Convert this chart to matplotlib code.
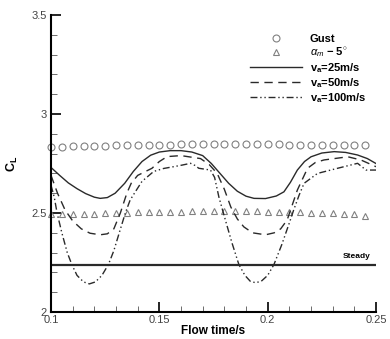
import numpy as np
import matplotlib
matplotlib.use('Agg')
import matplotlib.pyplot as plt
from matplotlib.lines import Line2D
from matplotlib.ticker import MultipleLocator

plt.rcParams['font.family'] = ['Liberation Sans', 'DejaVu Sans']
plt.rcParams['mathtext.fontset'] = 'custom'
plt.rcParams['mathtext.rm'] = 'Liberation Sans'
plt.rcParams['mathtext.it'] = 'Liberation Sans:italic'
plt.rcParams['mathtext.bf'] = 'Liberation Sans:bold'

# gust / alpha_m - 5 deg markers
t_marker = [0.100, 0.105, 0.110, 0.115, 0.120, 0.125, 0.130, 0.135, 0.140, 0.145,
            0.150, 0.155, 0.160, 0.165, 0.170, 0.175, 0.180, 0.185, 0.190, 0.195,
            0.200, 0.205, 0.210, 0.215, 0.220, 0.225, 0.230, 0.235, 0.240, 0.245]
cl_gust = [2.833, 2.835, 2.836, 2.838, 2.839, 2.840, 2.841, 2.842, 2.843, 2.844,
           2.845, 2.846, 2.847, 2.847, 2.848, 2.848, 2.848, 2.848, 2.848, 2.848,
           2.847, 2.847, 2.846, 2.846, 2.845, 2.845, 2.845, 2.844, 2.844, 2.844]
cl_alpha = [2.497, 2.497, 2.495, 2.496, 2.497, 2.498, 2.499, 2.501, 2.503, 2.504,
            2.505, 2.506, 2.507, 2.508, 2.509, 2.509, 2.510, 2.510, 2.509, 2.508,
            2.507, 2.506, 2.505, 2.503, 2.502, 2.500, 2.498, 2.496, 2.493, 2.487]

# va = 25 m/s
t_25 = [0.100, 0.104, 0.108, 0.112, 0.116, 0.120, 0.1227, 0.126, 0.1296, 0.134,
        0.138, 0.142, 0.146, 0.150, 0.155, 0.160, 0.165, 0.170, 0.174, 0.178,
        0.182, 0.186, 0.190, 0.1937, 0.199, 0.204, 0.2075, 0.2105, 0.2137, 0.217,
        0.220, 0.225, 0.2307, 0.236, 0.2415, 0.246, 0.250]
cl_25 = [2.730, 2.690, 2.652, 2.623, 2.598, 2.580, 2.574, 2.578, 2.600, 2.650,
         2.710, 2.760, 2.792, 2.808, 2.815, 2.815, 2.808, 2.790, 2.750, 2.700,
         2.650, 2.610, 2.585, 2.574, 2.573, 2.586, 2.607, 2.655, 2.717, 2.760,
         2.784, 2.803, 2.810, 2.806, 2.793, 2.775, 2.750]

# va = 50 m/s
t_50 = [0.100, 0.103, 0.1065, 0.110, 0.114, 0.118, 0.1227, 0.126, 0.129, 0.132,
        0.135, 0.137, 0.140, 0.1466, 0.150, 0.1536, 0.160, 0.169, 0.173, 0.1767,
        0.180, 0.183, 0.186, 0.189, 0.193, 0.199, 0.203, 0.206, 0.209, 0.2137,
        0.2184, 0.222, 0.226, 0.237, 0.243, 0.250]
cl_50 = [2.690, 2.600, 2.515, 2.460, 2.420, 2.398, 2.390, 2.395, 2.420, 2.500,
         2.600, 2.650, 2.690, 2.726, 2.760, 2.785, 2.790, 2.775, 2.745, 2.700,
         2.620, 2.530, 2.470, 2.430, 2.400, 2.390, 2.400, 2.420, 2.465, 2.616,
         2.726, 2.755, 2.768, 2.784, 2.768, 2.734]

# va = 100 m/s
t_100 = [0.100, 0.1015, 0.1028, 0.105, 0.1075, 0.1096, 0.112, 0.115, 0.1177, 0.1205,
         0.1235, 0.1265, 0.129, 0.1315, 0.1343, 0.1365, 0.1389, 0.142, 0.1474, 0.152,
         0.1566, 0.1605, 0.1644, 0.1665, 0.1682, 0.1736, 0.1755, 0.1775, 0.1806, 0.1835,
         0.1867, 0.1895, 0.192, 0.1944, 0.197, 0.200, 0.2029, 0.2065, 0.210, 0.212,
         0.2145, 0.2168, 0.223, 0.2323, 0.2415, 0.2454, 0.250]
cl_100 = [2.640, 2.580, 2.500, 2.400, 2.300, 2.240, 2.185, 2.152, 2.142, 2.152,
          2.185, 2.240, 2.310, 2.400, 2.500, 2.565, 2.607, 2.660, 2.710, 2.725,
          2.734, 2.742, 2.751, 2.740, 2.726, 2.717, 2.680, 2.580, 2.460, 2.350,
          2.240, 2.185, 2.155, 2.148, 2.155, 2.185, 2.240, 2.340, 2.450, 2.515,
          2.590, 2.650, 2.700, 2.726, 2.751, 2.717, 2.717]

t_steady = [0.100, 0.250]
cl_steady = [2.237, 2.237]

fig = plt.figure(figsize=(3.9, 3.39), dpi=100)
ax = fig.add_axes([0.1308, 0.0796, 0.8333, 0.8761])

dark = '#2a2a2a'
grey = '#808080'
ls_dash = (0, (6, 4))
ls_dashdot = (0, (5, 2, 1, 2, 1, 2))

ax.plot(t_marker, cl_gust, 'o', ms=5, mfc='none', mec=grey, mew=0.8, clip_on=False)
ax.plot(t_marker, cl_alpha, '^', ms=4.5, mfc='none', mec=grey, mew=0.8, clip_on=False)
ax.plot(t_25, cl_25, color=dark, lw=1.0)
ax.plot(t_50, cl_50, color=dark, lw=1.0, linestyle=ls_dash)
ax.plot(t_100, cl_100, color=dark, lw=1.0, linestyle=ls_dashdot)
ax.plot(t_steady, cl_steady, color=dark, lw=1.6)
ax.text(0.2412, 2.262, 'Steady', fontsize=6, fontweight='bold', ha='center', va='bottom')

ax.set_xlim(0.1, 0.25)
ax.set_ylim(2.0, 3.5)
ax.xaxis.set_minor_locator(MultipleLocator(0.01))
ax.yaxis.set_minor_locator(MultipleLocator(0.1))
ax.set_xticks([0.1, 0.15, 0.2, 0.25])
ax.set_xticklabels(['0.1', '0.15', '0.2', '0.25'])
ax.set_yticks([2, 2.5, 3, 3.5])
ax.set_yticklabels(['2', '2.5', '3', '3.5'])
ax.tick_params(which='major', direction='in', length=7, width=1.2, labelsize=8,
               labelcolor='#444444', pad=2)
ax.tick_params(which='minor', direction='in', length=4, width=0.6, color='#555555')
ax.tick_params(axis='y', which='major', pad=3)

for side in ['top', 'right']:
    ax.spines[side].set_visible(False)
for side in ['left', 'bottom']:
    ax.spines[side].set_linewidth(1.5)

ax.set_xlabel('Flow time/s', fontsize=8.5, fontweight='bold', labelpad=0)
ax.set_ylabel(r'$\mathbf{C_L}$', fontsize=9, labelpad=8)

handles = [
    Line2D([], [], ls='none', marker='o', ms=5, mfc='none', mec=grey, mew=0.8),
    Line2D([], [], ls='none', marker='^', ms=4.5, mfc='none', mec=grey, mew=0.8),
    Line2D([], [], color=dark, lw=1.0),
    Line2D([], [], color=dark, lw=1.0, linestyle=ls_dash),
    Line2D([], [], color=dark, lw=1.0, linestyle=ls_dashdot),
]
labels = [
    'Gust',
    r'$\alpha_m$ $\mathbf{-\ 5^{\circ}}$',
    r'v$_\mathbf{a}$=25m/s',
    r'v$_\mathbf{a}$=50m/s',
    r'v$_\mathbf{a}$=100m/s',
]
leg = ax.legend(handles, labels, loc='upper left', bbox_to_anchor=(0.612, 0.935),
                frameon=False, handlelength=4.7, handletextpad=0.7,
                labelspacing=0.12, borderpad=0, borderaxespad=0,
                prop={'weight': 'bold', 'size': 8})

fig.savefig('out.png', dpi=100)
